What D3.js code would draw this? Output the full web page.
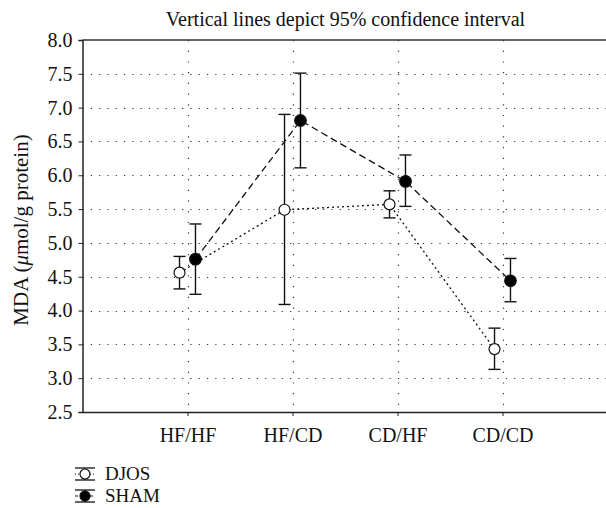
<!DOCTYPE html>
<html><head><meta charset="utf-8">
<script src="https://cdn.jsdelivr.net/npm/d3@7"></script>
<style>body{margin:0;background:#fff}svg{display:block}text{font-family:"Liberation Serif","DejaVu Serif",serif;fill:#111}</style>
</head><body><svg id="c" width="606" height="508"></svg>
<script>
const categories = ["HF/HF","HF/CD","CD/HF","CD/CD"];
const djosMean = [4.56, 5.49, 5.57, 3.43];
const djosLow  = [4.32, 4.09, 5.37, 3.13];
const djosHigh = [4.80, 6.90, 5.77, 3.74];
const shamMean = [4.76, 6.81, 5.91, 4.44];
const shamLow  = [4.24, 6.11, 5.54, 4.13];
const shamHigh = [5.28, 7.51, 6.30, 4.77];
const yTicks = [2.5,3.0,3.5,4.0,4.5,5.0,5.5,6.0,6.5,7.0,7.5,8.0];

const svg = d3.select("#c");
const L = 82.5, T = 40, B = 412, R = 607.5;
const x = d3.scaleLinear().domain([0,5]).range([L,R]);
const y = d3.scaleLinear().domain([2.5,8.0]).range([B,T]);
const off = 0.076;

// grid
svg.append("g").selectAll("line").data(yTicks.slice(1,-1)).join("line")
  .attr("x1",L).attr("x2",R).attr("y1",d=>Math.round(y(d))+0.5).attr("y2",d=>Math.round(y(d))+0.5)
  .attr("stroke","#333").attr("stroke-width",1.2).attr("stroke-dasharray","1.2,7.1");
svg.append("g").selectAll("line").data(categories).join("line")
  .attr("x1",(d,i)=>Math.round(x(i+1))+0.5).attr("x2",(d,i)=>Math.round(x(i+1))+0.5).attr("y1",T).attr("y2",B)
  .attr("stroke","#333").attr("stroke-width",1.2).attr("stroke-dasharray","1.2,9.5");

// top border
svg.append("line").attr("x1",L).attr("x2",R).attr("y1",T).attr("y2",T).attr("stroke","#333").attr("stroke-width",1.5);

// axes
const ya = svg.append("g").attr("transform",`translate(${L},0)`)
  .call(d3.axisLeft(y).tickValues(yTicks).tickFormat(d3.format(".1f")).tickSize(4).tickPadding(6));
ya.select(".domain").attr("stroke","#222").attr("stroke-width",1.5);
ya.selectAll(".tick line").attr("stroke","#222");
ya.selectAll("text").style("font-size","20px").attr("fill","#111");
const xa = svg.append("g").attr("transform",`translate(0,${B})`)
  .call(d3.axisBottom(x).tickValues([1,2,3,4]).tickFormat(d=>categories[d-1]).tickSize(4).tickPadding(12).tickSizeOuter(0));
xa.select(".domain").attr("stroke","#222").attr("stroke-width",1.5);
xa.selectAll(".tick line").attr("stroke","#222");
xa.selectAll("text").style("font-size","20px").attr("fill","#111");

// title
svg.append("text").attr("x",345.5).attr("y",25.5).attr("text-anchor","middle").style("font-size","20px")
  .text("Vertical lines depict 95% confidence interval");
// y label
const yl = svg.append("text").attr("transform","translate(28,230) rotate(-90)").attr("text-anchor","middle").style("font-size","21px");
yl.append("tspan").text("MDA (");
yl.append("tspan").attr("font-style","italic").text("μ");
yl.append("tspan").text("mol/g protein)");

function series(mean, lo, hi, dx, dash, filled){
  const pts = mean.map((m,i)=>({xv:i+1+dx, m, lo:lo[i], hi:hi[i]}));
  svg.append("path").datum(pts).attr("fill","none").attr("stroke","#111").attr("stroke-width",1.3)
    .attr("stroke-dasharray",dash)
    .attr("d",d3.line().x(d=>x(d.xv)).y(d=>y(d.m)));
  const g = svg.append("g");
  g.selectAll("line.v").data(pts).join("line").attr("class","v")
    .attr("x1",d=>x(d.xv)).attr("x2",d=>x(d.xv)).attr("y1",d=>y(d.lo)).attr("y2",d=>y(d.hi))
    .attr("stroke","#111").attr("stroke-width",1.4);
  ["lo","hi"].forEach(k=>{
    g.selectAll("line."+k).data(pts).join("line").attr("class",k)
      .attr("x1",d=>x(d.xv)-6).attr("x2",d=>x(d.xv)+6).attr("y1",d=>y(d[k])).attr("y2",d=>y(d[k]))
      .attr("stroke","#111").attr("stroke-width",1.4);
  });
  g.selectAll("circle").data(pts).join("circle")
    .attr("cx",d=>x(d.xv)).attr("cy",d=>y(d.m)).attr("r",filled?5.8:5.5)
    .attr("fill",filled?"#000":"#fff").attr("stroke","#111").attr("stroke-width",1.2);
}
series(djosMean, djosLow, djosHigh, -off, "2,3", false);
series(shamMean, shamLow, shamHigh, off, "7,4", true);

// legend
const legend = [{name:"DJOS",filled:false,y:474},{name:"SHAM",filled:true,y:496}];
legend.forEach(d=>{
  const g = svg.append("g");
  g.append("line").attr("x1",75).attr("x2",95).attr("y1",d.y-6).attr("y2",d.y-6).attr("stroke","#111").attr("stroke-width",1.3);
  g.append("line").attr("x1",75).attr("x2",95).attr("y1",d.y+6).attr("y2",d.y+6).attr("stroke","#111").attr("stroke-width",1.3);
  g.append("line").attr("x1",85).attr("x2",85).attr("y1",d.y-6).attr("y2",d.y+6).attr("stroke","#111").attr("stroke-width",1.3);
  g.append("line").attr("x1",75).attr("x2",95).attr("y1",d.y).attr("y2",d.y).attr("stroke","#111").attr("stroke-width",1).attr("stroke-dasharray",d.filled?"3,2":"1,2");
  g.append("circle").attr("cx",85).attr("cy",d.y).attr("r",5).attr("fill",d.filled?"#000":"#fff").attr("stroke","#111").attr("stroke-width",1.2);
  g.append("text").attr("x",105).attr("y",d.y+6).style("font-size","19px").text(d.name);
});
</script></body></html>
